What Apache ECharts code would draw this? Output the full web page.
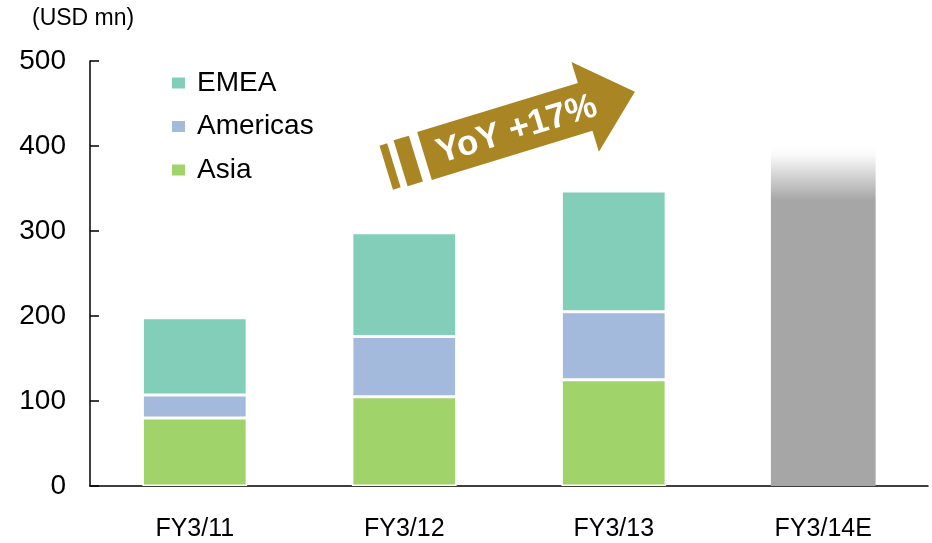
<!DOCTYPE html>
<html>
<head>
<meta charset="utf-8">
<script src="https://cdn.jsdelivr.net/npm/echarts@6/dist/echarts.min.js"></script>
<style>
  html, body { margin: 0; padding: 0; background: #fff; }
  #chart { width: 932px; height: 543px; }
</style>
</head>
<body>
<div id="chart"></div>
<script>
// Fiscal years and regional sales (USD mn)
const categories = ['FY3/11', 'FY3/12', 'FY3/13', 'FY3/14E'];
const asia = [80, 105, 125, '-'];
const americas = [27, 71, 80, '-'];
const emea = [91, 122, 142, '-'];
const forecast = ['-', '-', '-', 400];
const legendNames = ['EMEA', 'Americas', 'Asia'];
const yTicks = { min: 0, max: 500, interval: 100 };

const FONT = '"Liberation Sans", Arial, sans-serif';
const GOLD = '#aa8524';

const chart = echarts.init(document.getElementById('chart'));

function regionSeries(name, data, color) {
  return {
    name: name,
    type: 'bar',
    stack: 'total',
    data: data,
    barWidth: '50%',
    itemStyle: { color: color, borderColor: '#ffffff', borderWidth: 1.5 }
  };
}

chart.setOption({
  animation: false,
  backgroundColor: '#ffffff',
  textStyle: { fontFamily: FONT },
  grid: { left: 90, right: 4, top: 61, bottom: 57, containLabel: false, outerBoundsMode: 'none' },
  legend: {
    data: legendNames,
    orient: 'vertical',
    left: 170,
    top: 68,
    padding: 0,
    itemWidth: 15,
    itemHeight: 13,
    itemGap: 13.5,
    icon: 'rect',
    selectedMode: false,
    textStyle: { fontFamily: FONT, fontSize: 28, color: '#000', lineHeight: 30, padding: [0, 0, 0, 6] }
  },
  xAxis: {
    type: 'category',
    data: categories,
    axisLine: { lineStyle: { color: '#000', width: 1.5 } },
    axisTick: { inside: true, length: 10, lineStyle: { color: '#000', width: 1.5 } },
    axisLabel: { fontFamily: FONT, fontSize: 25, color: '#000', margin: 31, interval: 0 }
  },
  yAxis: {
    type: 'value',
    min: yTicks.min,
    max: yTicks.max,
    interval: yTicks.interval,
    splitLine: { show: false },
    axisLine: { show: true, lineStyle: { color: '#000', width: 1.5 } },
    axisTick: { show: true, inside: true, length: 9, lineStyle: { color: '#000', width: 1.5 } },
    axisLabel: { fontFamily: FONT, fontSize: 28, color: '#000', margin: 24 }
  },
  series: [
    regionSeries('Asia', asia, '#a0d46a'),
    regionSeries('Americas', americas, '#a3badd'),
    regionSeries('EMEA', emea, '#83ceb9'),
    {
      name: 'Forecast',
      type: 'bar',
      stack: 'total',
      data: forecast,
      barWidth: '50%',
      itemStyle: {
        color: new echarts.graphic.LinearGradient(0, 0, 0, 1, [
          { offset: 0, color: '#ffffff' },
          { offset: 0.03, color: '#f8f8f8' },
          { offset: 0.16, color: '#a6a6a6' },
          { offset: 1, color: '#a6a6a6' }
        ])
      }
    }
  ],
  graphic: [
    {
      type: 'text',
      left: 32,
      top: 7,
      style: { text: '(USD mn)', font: '23px ' + FONT, fill: '#000' }
    },
    {
      // growth arrow with tail stripes
      type: 'group',
      x: 424.5,
      y: 156,
      rotation: 17 * Math.PI / 180,
      children: [
        { type: 'rect', shape: { x: -40, y: -23, width: 8, height: 46 }, style: { fill: GOLD } },
        { type: 'rect', shape: { x: -25, y: -24, width: 16, height: 48 }, style: { fill: GOLD } },
        {
          type: 'polygon',
          shape: { points: [[0, -25], [168, -25], [168, -47], [220, 0], [168, 47], [168, 25], [0, 25]] },
          style: { fill: GOLD }
        },
        {
          type: 'text',
          x: 96,
          y: 2,
          style: {
            text: 'YoY +17%',
            fill: '#ffffff',
            font: 'bold 35px ' + FONT,
            align: 'center',
            verticalAlign: 'middle'
          }
        }
      ]
    }
  ]
});
</script>
</body>
</html>
